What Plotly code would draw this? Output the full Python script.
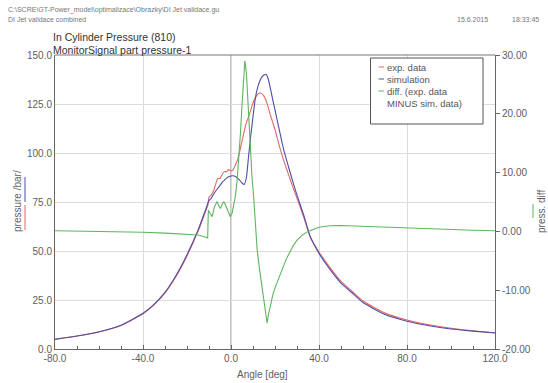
import plotly.graph_objects as go

# ---------------- data ----------------
angle = [-80, -70, -60, -50, -40, -35, -30, -25, -20, -15,
         -12, -11, -10.5, -10, -9, -8, -7, -6, -5, -4,
         -3, -2, -1, 0, 1, 2, 3, 4, 5, 6,
         7, 8, 9, 10, 11, 12, 13, 14, 15, 16,
         17, 18, 19, 20, 22, 24, 26, 28, 30, 33,
         36, 40, 45, 50, 55, 60, 70, 80, 90, 100,
         110, 120]

exp_data = [5.0, 6.6, 8.7, 12.0, 18.0, 22.5, 28.6, 37.0, 47.5, 60.0,
            68.8, 71.8, 73.4, 77.5, 78.5, 80.5, 84.0, 87.0, 87.0, 89.0,
            90.5, 90.5, 91.5, 90.8, 91.5, 94.0, 96.5, 101.0, 106.0, 111.0,
            115.5, 118.5, 122.0, 125.5, 128.0, 129.8, 130.6, 130.3, 129.0, 126.5,
            123.0, 119.0, 115.5, 112.0, 103.5, 96.0, 89.5, 83.0, 77.0, 67.5,
            57.0, 49.5, 41.5, 34.5, 29.5, 24.5, 18.3, 14.8, 12.4, 10.6,
            9.3, 8.3]

simulation = [4.9, 6.6, 8.8, 12.1, 18.2, 22.8, 28.9, 37.5, 48.1, 60.6,
              69.7, 72.8, 74.5, 75.6, 77.0, 78.8, 80.5, 82.0, 83.5, 85.0,
              86.2, 87.2, 87.9, 88.3, 88.4, 88.0, 87.2, 86.0, 84.7, 84.0,
              87.5, 98.5, 109.0, 118.5, 127.5, 133.0, 136.5, 138.7, 139.8, 140.0,
              137.5, 132.5, 127.0, 122.0, 111.5, 101.5, 93.5, 85.8, 78.5, 68.5,
              57.5, 48.8, 40.6, 33.6, 28.7, 23.7, 17.6, 14.2, 11.9, 10.2,
              9.1, 8.2]

diff_angle = [-80, -60, -40, -30, -20, -15, -12, -10.6, -10.3, -9.5,
              -8.6, -7.5, -6.3, -5.5, -4.8, -4, -3.3, -2.5, -1.8, -1,
              -0.3, 0.5, 1.2, 2, 2.8, 3.5, 4.3, 5, 5.6, 6.3,
              7, 8, 8.8, 9.5, 10.3, 11, 11.9, 13, 14.2, 15.3,
              16.4, 17, 18, 19, 20, 21, 22.5, 25, 28, 30,
              32.5, 35, 40, 45, 50, 60, 70, 80, 90, 100,
              110, 120]

press_diff = [0.1, 0.0, -0.15, -0.3, -0.5, -0.6, -0.9, -1.1, 3.6, 3.0,
              2.5, 4.2, 5.1, 4.3, 3.9, 4.6, 5.1, 4.5, 3.9, 3.2,
              2.5, 3.1, 4.2, 6.0, 8.7, 12.0, 16.7, 21.5, 25.5, 29.0,
              27.0, 20.0, 13.8, 9.5, 5.9, 1.5, -3.2, -6.5, -10.0, -12.8,
              -15.6, -14.2, -12.3, -10.8, -9.6, -8.6, -7.4, -4.8, -2.6, -1.5,
              -0.6, 0.0, 0.7, 0.95, 1.0, 0.85, 0.7, 0.55, 0.45, 0.35,
              0.2, 0.1]

x_ticks = [-80, -40, 0, 40, 80, 120]
y_ticks = [0, 25, 50, 75, 100, 125, 150]
y2_ticks = [-20, -10, 0, 10, 20, 30]

series_names = ["exp. data", "simulation", "diff. (exp. data<br>MINUS sim. data)"]

# ---------------- styling ----------------
W, H = 548, 383
L, R, T, B = 55, 495, 55, 349
RED = "#e06868"
BLUE = "#4e4ea6"
GREEN = "#5fb55f"
TXT = "#606060"
FONT = "Liberation Sans, Arial, sans-serif"


def px(x):
    return (x - L) / (R - L)


def py(y):
    return (B - y) / (B - T)


fig = go.Figure()
fig.add_trace(go.Scatter(x=angle, y=exp_data, mode="lines", name=series_names[0],
                         line=dict(color=RED, width=1.1, shape="spline", smoothing=0.5)))
fig.add_trace(go.Scatter(x=angle, y=simulation, mode="lines", name=series_names[1],
                         line=dict(color=BLUE, width=1.1, shape="spline", smoothing=0.5)))
fig.add_trace(go.Scatter(x=diff_angle, y=press_diff, mode="lines", name=series_names[2],
                         yaxis="y2", line=dict(color=GREEN, width=1.1)))

axis_common = dict(showline=True, linecolor="#666666", linewidth=1,
                   tickfont=dict(family=FONT, size=10, color=TXT), zeroline=False,
                   automargin=False)

fig.update_layout(
    width=W, height=H,
    margin=dict(l=L, r=W - R, t=T, b=H - B, pad=0),
    paper_bgcolor="white", plot_bgcolor="white",
    showlegend=False,
    font=dict(family=FONT, color=TXT),
    xaxis=dict(range=[-80, 120], tickvals=x_ticks, ticktext=[f"{v:.1f}" for v in x_ticks],
               showgrid=True, gridcolor="#dcdcdc", gridwidth=1,
               ticks="inside", ticklen=4, tickcolor="#666666",
               minor=dict(dtick=10, ticks="inside", ticklen=3, tickcolor="#666666", showgrid=False),
               **axis_common),
    yaxis=dict(range=[0, 150], tickvals=y_ticks, ticktext=[f"{v:.1f}" for v in y_ticks],
               showgrid=True, gridcolor="#dcdcdc", gridwidth=1, ticks="", **axis_common),
    yaxis2=dict(range=[-20, 30], tickvals=y2_ticks, ticktext=[f"{v:.2f}" for v in y2_ticks],
                overlaying="y", side="right", showgrid=False,
                ticks="outside", ticklen=4, tickcolor="#666666", **axis_common),
)

shapes = []
# zero line at x=0 (darker)
shapes.append(dict(type="line", xref="x", yref="paper", x0=0, x1=0, y0=0, y1=1,
                   line=dict(color="#9a9a9a", width=1.2), layer="below"))
# top border
shapes.append(dict(type="line", xref="paper", yref="paper", x0=0, x1=1, y0=1, y1=1,
                   line=dict(color="#777777", width=1)))
# legend box
shapes.append(dict(type="rect", xref="paper", yref="paper",
                   x0=px(370.5), x1=px(483), y0=py(124), y1=py(58),
                   line=dict(color="#555555", width=1), fillcolor="white"))
leg_y = [67, 79, 91]
for yy, c in zip(leg_y, [RED, BLUE, GREEN]):
    shapes.append(dict(type="line", xref="paper", yref="paper",
                       x0=px(378.5), x1=px(384), y0=py(yy), y1=py(yy),
                       line=dict(color=c, width=1)))
# colour markers near axis titles
shapes.append(dict(type="line", xref="paper", yref="paper", x0=px(25), x1=px(25),
                   y0=py(202), y1=py(177), line=dict(color=BLUE, width=1)))
shapes.append(dict(type="line", xref="paper", yref="paper", x0=px(25), x1=px(25),
                   y0=py(230), y1=py(205), line=dict(color=RED, width=1)))
shapes.append(dict(type="line", xref="paper", yref="paper", x0=px(533), x1=px(533),
                   y0=py(218), y1=py(204), line=dict(color=GREEN, width=1)))
fig.update_layout(shapes=shapes)

ann = []


def text(x, y, s, size=10, color=TXT, xanchor="left", angle=0):
    ann.append(dict(x=px(x), y=py(y), xref="paper", yref="paper", text=s, showarrow=False,
                    xanchor=xanchor, yanchor="middle", textangle=angle,
                    font=dict(family=FONT, size=size, color=color)))


text(6, 10, "C:\\SCRE\\GT-Power_model\\optimalizace\\Obrazky\\DI Jet validace.gu", size=7, color="#777777")
text(6, 20, "DI Jet validace combined", size=7, color="#777777")
text(490, 20, "15.6.2015", size=7, color="#777777", xanchor="right")
text(541, 20, "18:33:45", size=7, color="#777777", xanchor="right")
text(51, 37, "In Cylinder Pressure (810)", size=10.5, color="#333333")
text(51, 50, "MonitorSignal part pressure-1", size=10.5, color="#333333")
text(385, 67, series_names[0], size=9.5, color="#555555")
text(385, 79, series_names[1], size=9.5, color="#555555")
ann.append(dict(x=px(385), y=py(97), xref="paper", yref="paper",
                text=series_names[2], showarrow=False, align="left",
                xanchor="left", yanchor="middle",
                font=dict(family=FONT, size=9.5, color="#555555")))
text(17, 201, "pressure /bar/", size=10, xanchor="center", angle=-90)
text(541, 212, "press. diff", size=10, xanchor="center", angle=-90)
text(262, 374, "Angle [deg]", size=10, xanchor="center")
fig.update_layout(annotations=ann)

fig.write_html("out.html", config={"displayModeBar": False},
               post_script="document.body.style.margin='0';document.body.style.padding='0';")
